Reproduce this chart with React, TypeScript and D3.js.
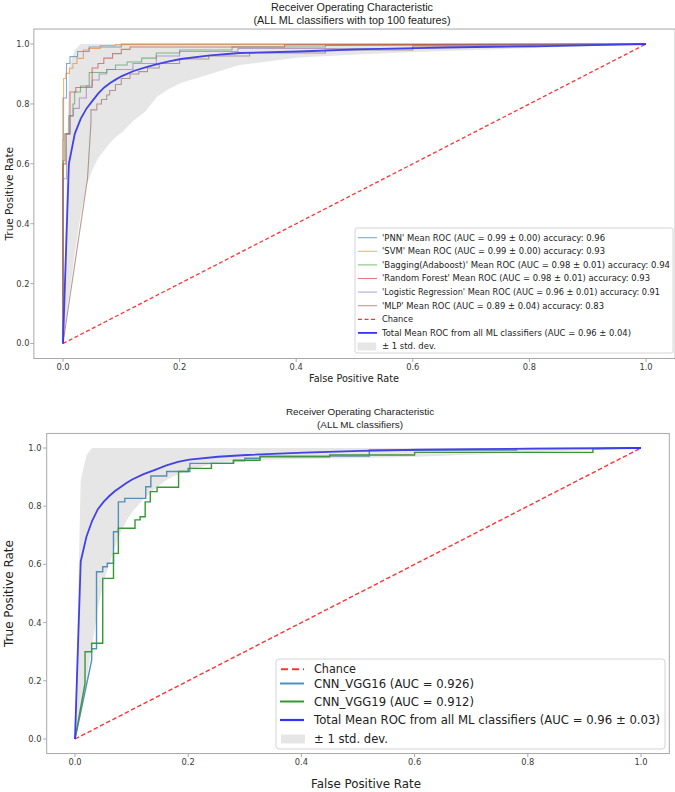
import React from 'react';
import * as d3 from 'd3';

type Pt = [number, number];

// Shared false-positive-rate grid for the averaged curves
const MEAN_FPR = [0, 0.0101, 0.0202, 0.0303, 0.0404, 0.0505, 0.0606, 0.0707, 0.0808, 0.0909, 0.101, 0.1212, 0.1414, 0.1616, 0.1818, 0.202, 0.2525, 0.303, 0.404, 0.505, 0.606, 0.707, 0.808, 0.909, 1.0];

// Upper panel: ML classifiers with top 100 features
const ML_MEAN_TPR = [0, 0.6, 0.7, 0.75, 0.785, 0.81, 0.835, 0.855, 0.87, 0.882, 0.893, 0.91, 0.922, 0.933, 0.942, 0.95, 0.962, 0.97, 0.975, 0.982, 0.986, 0.99, 0.992, 0.996, 1.0];
const ML_UPPER_TPR = [0, 0.92, 0.98, 1, 1, 1, 1, 1, 1, 1, 1, 1, 1, 1, 1, 1, 1, 1, 1, 1, 1, 1, 1, 1, 1];
const ML_LOWER_TPR = [0, 0.15, 0.3, 0.43, 0.53, 0.58, 0.62, 0.645, 0.67, 0.69, 0.705, 0.745, 0.775, 0.825, 0.85, 0.87, 0.9, 0.93, 0.955, 0.965, 0.973, 0.98, 0.987, 0.993, 1.0];

const PNN_ROC: Pt[] = [[0, 0], [0, 0.82], [0.006, 0.82], [0.006, 0.935], [0.012, 0.935], [0.012, 0.958], [0.025, 0.958], [0.025, 0.975], [0.045, 0.975], [0.045, 0.99], [0.1, 0.99], [0.1, 1], [1, 1]];
const SVM_ROC: Pt[] = [[0, 0], [0, 0.68], [0.001, 0.68], [0.001, 0.885], [0.005, 0.885], [0.005, 0.902], [0.011, 0.902], [0.011, 0.919], [0.017, 0.919], [0.017, 0.935], [0.024, 0.935], [0.024, 0.952], [0.035, 0.952], [0.035, 0.98], [0.044, 0.98], [0.044, 0.985], [0.064, 0.985], [0.064, 0.995], [0.09, 0.995], [0.09, 0.998], [1, 1]];
const BAGGING_ROC: Pt[] = [[0, 0], [0, 0.61], [0.003, 0.61], [0.003, 0.7], [0.01, 0.7], [0.01, 0.76], [0.017, 0.76], [0.017, 0.8], [0.02, 0.8], [0.02, 0.84], [0.03, 0.84], [0.03, 0.86], [0.045, 0.86], [0.045, 0.905], [0.075, 0.905], [0.075, 0.915], [0.09, 0.915], [0.09, 0.93], [0.11, 0.93], [0.11, 0.94], [0.135, 0.94], [0.135, 0.953], [0.16, 0.953], [0.16, 0.97], [0.2, 0.97], [0.2, 0.98], [0.29, 0.98], [0.29, 0.99], [0.45, 0.99], [0.45, 0.995], [1, 1]];
const RF_ROC: Pt[] = [[0, 0], [0, 0.6], [0.005, 0.6], [0.005, 0.7], [0.012, 0.7], [0.012, 0.84], [0.022, 0.84], [0.022, 0.855], [0.05, 0.855], [0.05, 0.92], [0.06, 0.92], [0.06, 0.935], [0.07, 0.935], [0.07, 0.953], [0.085, 0.953], [0.085, 0.968], [0.1, 0.968], [0.1, 0.982], [0.115, 0.982], [0.115, 0.99], [0.38, 0.99], [0.38, 0.997], [1, 1]];
const LOGREG_ROC: Pt[] = [[0, 0], [0, 0.55], [0.006, 0.55], [0.006, 0.7], [0.012, 0.7], [0.012, 0.76], [0.018, 0.76], [0.018, 0.785], [0.028, 0.785], [0.028, 0.82], [0.04, 0.82], [0.04, 0.86], [0.05, 0.86], [0.05, 0.88], [0.062, 0.88], [0.062, 0.9], [0.075, 0.9], [0.075, 0.915], [0.12, 0.915], [0.12, 0.935], [0.16, 0.935], [0.16, 0.96], [0.2, 0.96], [0.2, 0.975], [0.3, 0.975], [0.3, 0.985], [0.6, 0.985], [0.6, 0.995], [1, 1]];
const MLP_ROC: Pt[] = [[0, 0], [0.042, 0.55], [0.048, 0.74], [0.048, 0.78], [0.058, 0.78], [0.058, 0.8], [0.066, 0.8], [0.066, 0.815], [0.075, 0.815], [0.075, 0.83], [0.08, 0.83], [0.08, 0.845], [0.09, 0.845], [0.09, 0.865], [0.1, 0.865], [0.1, 0.885], [0.115, 0.885], [0.115, 0.9], [0.13, 0.9], [0.13, 0.908], [0.145, 0.908], [0.145, 0.92], [0.165, 0.92], [0.165, 0.935], [0.2, 0.935], [0.2, 0.95], [0.25, 0.95], [0.25, 0.96], [0.32, 0.96], [0.32, 0.97], [0.45, 0.97], [0.45, 0.98], [0.6, 0.98], [0.6, 0.99], [1, 1]];

const ML_CURVES = [PNN_ROC, SVM_ROC, BAGGING_ROC, RF_ROC, LOGREG_ROC, MLP_ROC];
const ML_LABELS = [
  "'PNN' Mean ROC (AUC = 0.99 \u00b1 0.00) accuracy: 0.96",
  "'SVM' Mean ROC (AUC = 0.99 \u00b1 0.00) accuracy: 0.93",
  "'Bagging(Adaboost)' Mean ROC (AUC = 0.98 \u00b1 0.01) accuracy: 0.94",
  "'Random Forest' Mean ROC (AUC = 0.98 \u00b1 0.01) accuracy: 0.93",
  "'Logistic Regression' Mean ROC (AUC = 0.96 \u00b1 0.01) accuracy: 0.91",
  "'MLP' Mean ROC (AUC = 0.89 \u00b1 0.04) accuracy: 0.83",
];
const ML_TOTAL_LABEL = 'Total Mean ROC from all ML classifiers (AUC = 0.96 \u00b1 0.04)';

// Lower panel: CNN models against the ML average
const CNN_MEAN_TPR = [0, 0.61, 0.695, 0.75, 0.79, 0.815, 0.835, 0.852, 0.866, 0.88, 0.892, 0.91, 0.925, 0.94, 0.952, 0.96, 0.97, 0.976, 0.984, 0.99, 0.994, 0.996, 0.998, 0.999, 1.0];
const CNN_UPPER_TPR = [0, 0.89, 0.975, 1, 1, 1, 1, 1, 1, 1, 1, 1, 1, 1, 1, 1, 1, 1, 1, 1, 1, 1, 1, 1, 1];
const CNN_LOWER_TPR = [0, 0.08, 0.2, 0.32, 0.45, 0.54, 0.6, 0.66, 0.71, 0.75, 0.78, 0.825, 0.86, 0.89, 0.91, 0.925, 0.95, 0.958, 0.962, 0.966, 0.97, 0.978, 0.986, 0.993, 1.0];

const VGG16_ROC: Pt[] = [[0, 0], [0.0295, 0.271], [0.0295, 0.31], [0.038, 0.31], [0.038, 0.575], [0.049, 0.575], [0.049, 0.592], [0.057, 0.592], [0.057, 0.604], [0.068, 0.604], [0.068, 0.712], [0.0766, 0.712], [0.0766, 0.815], [0.088, 0.815], [0.088, 0.827], [0.125, 0.827], [0.125, 0.867], [0.134, 0.867], [0.134, 0.904], [0.162, 0.904], [0.162, 0.919], [0.203, 0.919], [0.203, 0.947], [0.28, 0.947], [0.28, 0.956], [0.3, 0.956], [0.3, 0.965], [0.327, 0.965], [0.327, 0.972], [0.52, 0.972], [0.52, 0.993], [0.78, 0.993], [0.78, 0.998], [1, 1]];
const VGG19_ROC: Pt[] = [[0, 0], [0.0177, 0.191], [0.0177, 0.3], [0.0294, 0.3], [0.0294, 0.329], [0.049, 0.329], [0.049, 0.552], [0.068, 0.552], [0.068, 0.638], [0.0766, 0.638], [0.0766, 0.724], [0.106, 0.724], [0.106, 0.753], [0.115, 0.753], [0.115, 0.764], [0.124, 0.764], [0.124, 0.815], [0.133, 0.815], [0.133, 0.85], [0.145, 0.85], [0.145, 0.865], [0.183, 0.865], [0.183, 0.919], [0.2, 0.919], [0.2, 0.93], [0.241, 0.93], [0.241, 0.947], [0.28, 0.947], [0.28, 0.958], [0.327, 0.958], [0.327, 0.97], [0.45, 0.97], [0.45, 0.976], [0.6, 0.976], [0.6, 0.985], [0.915, 0.985], [0.915, 0.997], [1, 1]];

const CNN_CURVES = [VGG16_ROC, VGG19_ROC];
const CNN_LABELS = ['CNN_VGG16 (AUC = 0.926)', 'CNN_VGG19 (AUC = 0.912)'];
const CNN_TOTAL_LABEL = 'Total Mean ROC from all ML classifiers (AUC = 0.96 \u00b1 0.03)';

const TICKS = [0, 0.2, 0.4, 0.6, 0.8, 1.0];
const TITLE = 'Receiver Operating Characteristic';
const TOP_SUBTITLE = '(ALL ML classifiers with top 100 features)';
const BOTTOM_SUBTITLE = '(ALL ML classifiers)';

// Styling
const ML_COLORS = ['#1f77b4', '#ff7f0e', '#2ca02c', '#d62728', '#9467bd', '#8c564b'];
const CNN_COLORS = ['#4c92c3', '#339933'];
const MEAN_COLOR = '#3333ff';
const CHANCE_COLOR = '#ff3333';
const FRAME = '#a8a8a8';
const TICK_TEXT = '#3a3a3a';
const SANS = "'DejaVu Sans', sans-serif";
const TITLE_FONT = "'Liberation Sans', Arial, sans-serif";

const TOP_TEXT_W = [223, 223, 288, 268, 278, 222, 31, 249, 54];
const BOTTOM_TEXT_W = [42, 160, 160, 346, 74];

function band(x: d3.ScaleLinear<number, number>, y: d3.ScaleLinear<number, number>, lo: number[], hi: number[]) {
  return d3.area<number>()
    .x((i) => x(MEAN_FPR[i]))
    .y0((i) => y(lo[i]))
    .y1((i) => y(hi[i]))(d3.range(MEAN_FPR.length)) || '';
}

function Axes({ x, y, tickFont, labelFont, xLabelY, xLabelX, tickLabelY, yLabelX, yTickEnd, xLabelW }: any) {
  const [l, r] = x.range();
  const [b, t] = y.range();
  return (
    <g>
      <rect x={l} y={t} width={r - l} height={b - t} fill="none" stroke={FRAME} strokeWidth={1} />
      {TICKS.map((v) => (
        <g key={'x' + v}>
          <line x1={x(v)} x2={x(v)} y1={b} y2={b + 3.5} stroke={FRAME} />
          <text x={x(v)} y={tickLabelY} textAnchor="middle" fontFamily={SANS} fontSize={tickFont} fill={TICK_TEXT}>{v.toFixed(1)}</text>
        </g>
      ))}
      {TICKS.map((v) => (
        <g key={'y' + v}>
          <line x1={l - 3.5} x2={l} y1={y(v)} y2={y(v)} stroke={FRAME} />
          <text x={yTickEnd} y={y(v)} dy="0.35em" textAnchor="end" fontFamily={SANS} fontSize={tickFont} fill={TICK_TEXT}>{v.toFixed(1)}</text>
        </g>
      ))}
      <text x={xLabelX} y={xLabelY} textAnchor="middle" fontFamily={SANS} fontSize={labelFont} fill="#222" textLength={xLabelW} lengthAdjust="spacingAndGlyphs">False Positive Rate</text>
      <text transform={`translate(${yLabelX},${(t + b) / 2}) rotate(-90)`} textAnchor="middle" dy="0.35em" fontFamily={SANS} fontSize={labelFont} fill="#222">True Positive Rate</text>
    </g>
  );
}

export default function App() {
  // Upper panel scales
  const xT = d3.scaleLinear().domain([-0.05, 1.05]).range([33.85, 675.15]);
  const yT = d3.scaleLinear().domain([-0.05, 1.05]).range([358.5, 29.05]);
  // Lower panel scales
  const xB = d3.scaleLinear().domain([-0.05, 1.05]).range([46.7, 669.3]);
  const yB = d3.scaleLinear().domain([-0.05, 1.05]).range([753.55, 433.45]);

  const lineT = d3.line<Pt>().x((d) => xT(d[0])).y((d) => yT(d[1]));
  const lineB = d3.line<Pt>().x((d) => xB(d[0])).y((d) => yB(d[1]));
  const meanT: Pt[] = MEAN_FPR.map((f, i) => [f, ML_MEAN_TPR[i]]);
  const meanB: Pt[] = MEAN_FPR.map((f, i) => [f, CNN_MEAN_TPR[i]]);
  const diag: Pt[] = [[0, 0], [1, 1]];

  const topRows = 9;
  const topRowY = (i: number) => 237.7 + i * 13.6;
  const botRowY = [669.3, 683.5, 701.5, 720, 739];

  return (
    <svg width={675} height={792} style={{ position: 'absolute', left: 0, top: 0, background: '#fff' }}>
      {/* ---------- upper panel ---------- */}
      <text x={352} y={11} textAnchor="middle" fontFamily={TITLE_FONT} fontSize={10.8} fill="#222">{TITLE}</text>
      <text x={352} y={24} textAnchor="middle" fontFamily={TITLE_FONT} fontSize={10.8} fill="#222">{TOP_SUBTITLE}</text>
      <Axes x={xT} y={yT} tickFont={8.3} labelFont={10.5} xLabelX={354} xLabelY={382} tickLabelY={370} yLabelX={9} yTickEnd={29.5} xLabelW={90} />
      {ML_CURVES.map((c, i) => (
        <path key={i} d={lineT(c) || ''} fill="none" stroke={ML_COLORS[i]} strokeOpacity={0.6} strokeWidth={1.1} />
      ))}
      <path d={lineT(diag) || ''} fill="none" stroke={CHANCE_COLOR} strokeWidth={1.3} strokeDasharray="4,2.5" />
      <path d={lineT(meanT) || ''} fill="none" stroke={MEAN_COLOR} strokeWidth={1.8} />
      <path d={band(xT, yT, ML_LOWER_TPR, ML_UPPER_TPR)} fill="#808080" fillOpacity={0.2} />

      <rect x={355} y={228} width={318} height={125} rx={2} fill="#fff" fillOpacity={0.85} stroke="#d4d4d4" />
      {d3.range(topRows).map((i) => {
        const yy = topRowY(i);
        const label = i < 6 ? ML_LABELS[i] : i === 6 ? 'Chance' : i === 7 ? ML_TOTAL_LABEL : '\u00b1 1 std. dev.';
        let handle;
        if (i < 6) handle = <line x1={358} x2={377} y1={yy} y2={yy} stroke={ML_COLORS[i]} strokeOpacity={0.6} strokeWidth={1.1} />;
        else if (i === 6) handle = <line x1={358} x2={377} y1={yy} y2={yy} stroke={CHANCE_COLOR} strokeWidth={1.3} strokeDasharray="4,2.5" />;
        else if (i === 7) handle = <line x1={358} x2={377} y1={yy} y2={yy} stroke={MEAN_COLOR} strokeWidth={1.8} />;
        else handle = <rect x={357.5} y={yy - 4} width={18.5} height={8} fill="#808080" fillOpacity={0.2} />;
        return (
          <g key={i}>
            {handle}
            <text x={382} y={yy} dy="0.35em" fontFamily={SANS} fontSize={8.3} fill="#222" textLength={TOP_TEXT_W[i]} lengthAdjust="spacingAndGlyphs">{label}</text>
          </g>
        );
      })}

      {/* ---------- lower panel ---------- */}
      <text x={360} y={414.5} textAnchor="middle" fontFamily={TITLE_FONT} fontSize={9.9} fill="#222">{TITLE}</text>
      <text x={360} y={427.5} textAnchor="middle" fontFamily={TITLE_FONT} fontSize={9.9} fill="#222">{BOTTOM_SUBTITLE}</text>
      <Axes x={xB} y={yB} tickFont={8.3} labelFont={12} xLabelX={366} xLabelY={788} tickLabelY={765} yLabelX={9} yTickEnd={41.5} xLabelW={110} />
      <path d={lineB(diag) || ''} fill="none" stroke={CHANCE_COLOR} strokeWidth={1.4} strokeDasharray="4.5,2.5" />
      {CNN_CURVES.map((c, i) => (
        <path key={i} d={lineB(c) || ''} fill="none" stroke={CNN_COLORS[i]} strokeWidth={1.4} />
      ))}
      <path d={lineB(meanB) || ''} fill="none" stroke={MEAN_COLOR} strokeWidth={1.8} />
      <path d={band(xB, yB, CNN_LOWER_TPR, CNN_UPPER_TPR)} fill="#808080" fillOpacity={0.2} />

      <rect x={276} y={659} width={389} height={90} rx={3} fill="#fff" fillOpacity={0.85} stroke="#d4d4d4" />
      {botRowY.map((yy, i) => {
        const label = i === 0 ? 'Chance' : i < 3 ? CNN_LABELS[i - 1] : i === 3 ? CNN_TOTAL_LABEL : '\u00b1 1 std. dev.';
        let handle;
        if (i === 0) handle = <line x1={281} x2={304} y1={yy} y2={yy} stroke={CHANCE_COLOR} strokeWidth={2} strokeDasharray="7,4" />;
        else if (i < 3) handle = <line x1={280} x2={304} y1={yy} y2={yy} stroke={CNN_COLORS[i - 1]} strokeWidth={2} />;
        else if (i === 3) handle = <line x1={280} x2={304} y1={yy} y2={yy} stroke={MEAN_COLOR} strokeWidth={2.2} />;
        else handle = <rect x={281} y={yy - 4.5} width={24} height={9} fill="#808080" fillOpacity={0.2} />;
        return (
          <g key={i}>
            {handle}
            <text x={314} y={yy} dy="0.35em" fontFamily={SANS} fontSize={11.5} fill="#222" textLength={BOTTOM_TEXT_W[i]} lengthAdjust="spacingAndGlyphs">{label}</text>
          </g>
        );
      })}
    </svg>
  );
}
